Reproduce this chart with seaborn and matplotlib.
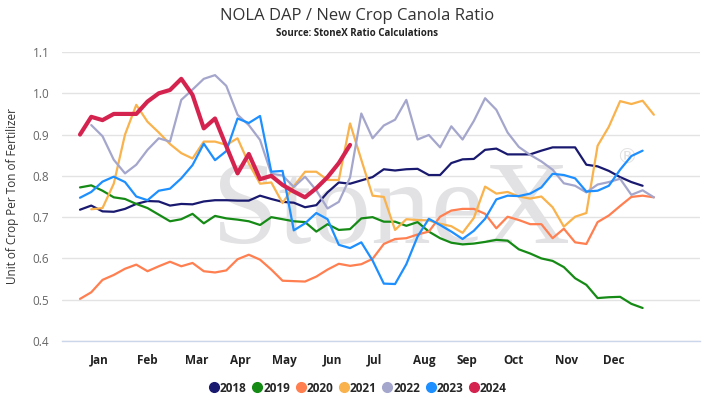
import numpy as np
import pandas as pd
import matplotlib
matplotlib.use("Agg")
import matplotlib.pyplot as plt
from matplotlib.lines import Line2D
import seaborn as sns

# weekly ratio values, week 0 = first week of January (NaN = no value)
y2018 = [0.718, 0.728, 0.714, 0.713, 0.72, 0.732, 0.739, 0.738, 0.728, 0.732, 0.731, 0.738, 0.741, 0.741,
         0.74, 0.74, 0.752, 0.744, 0.737, 0.735, 0.724, 0.729, 0.76, 0.784, 0.781, 0.789, 0.797,
         0.816, 0.813, 0.816, 0.817, 0.802, 0.802, 0.831, 0.84, 0.841, 0.863, 0.866, 0.852, 0.852, 0.852,
         0.861, 0.869, 0.869, 0.869, 0.827, 0.823, 0.812, 0.797, 0.785, 0.776]
y2019 = [0.772, 0.777, 0.764, 0.748, 0.744, 0.732, 0.722, 0.706, 0.69, 0.695, 0.708, 0.685, 0.703, 0.697,
         0.694, 0.69, 0.681, 0.70, 0.695, 0.69, 0.688, 0.665, 0.683, 0.669, 0.671, 0.697, 0.70,
         0.689, 0.689, 0.679, 0.688, 0.665, 0.649, 0.638, 0.634, 0.636, 0.64, 0.645, 0.643, 0.622, 0.612,
         0.60, 0.594, 0.579, 0.552, 0.536, 0.504, 0.506, 0.507, 0.49, 0.48]
y2020 = [0.502, 0.518, 0.548, 0.56, 0.575, 0.585, 0.569, 0.581, 0.592, 0.581, 0.589, 0.569, 0.566, 0.571,
         0.598, 0.609, 0.597, 0.573, 0.546, 0.545, 0.544, 0.556, 0.573, 0.587, 0.582, 0.586, 0.599,
         0.635, 0.647, 0.649, 0.658, 0.665, 0.701, 0.716, 0.72, 0.72, 0.708, 0.673, 0.701, 0.693, 0.683,
         0.683, 0.649, 0.672, 0.639, 0.635, 0.688, 0.704, 0.727, 0.749, 0.752, 0.748]
y2021 = [np.nan, 0.719, 0.722, 0.781, 0.90, 0.972, 0.931, 0.905, 0.877, 0.855, 0.842, 0.883, 0.883, 0.875,
         0.891, 0.83, 0.781, 0.784, 0.734, 0.775, 0.81, 0.81, 0.79, 0.79, 0.927, 0.839, 0.752,
         0.749, 0.669, 0.695, 0.693, 0.692, 0.684, 0.678, 0.662, 0.698, 0.774, 0.757, 0.761, 0.75, 0.745,
         0.75, 0.724, 0.677, 0.701, 0.71, 0.873, 0.919, 0.981, 0.974, 0.982, 0.948]
y2022 = [np.nan, 0.923, 0.896, 0.839, 0.806, 0.827, 0.863, 0.891, 0.883, 0.984, 1.009, 1.035, 1.044, 1.018,
         0.948, 0.923, 0.887, 0.805, 0.801, 0.773, 0.798, 0.765, 0.721, 0.737, 0.796, 0.951, 0.891,
         0.922, 0.936, 0.984, 0.888, 0.899, 0.869, 0.92, 0.888, 0.933, 0.988, 0.96, 0.905, 0.87, 0.851,
         0.835, 0.815, 0.782, 0.776, 0.76, 0.779, 0.785, 0.793, 0.754, 0.765, 0.748]
y2023 = [0.747, 0.761, 0.786, 0.798, 0.785, 0.75, 0.741, 0.764, 0.769, 0.794, 0.826, 0.878, 0.838, 0.86,
         0.939, 0.928, 0.945, 0.81, 0.812, 0.668, 0.685, 0.71, 0.695, 0.633, 0.625, 0.639, 0.595,
         0.539, 0.538, 0.586, 0.653, 0.696, 0.681, 0.665, 0.647, 0.667, 0.696, 0.743, 0.752, 0.751, 0.757,
         0.772, 0.805, 0.802, 0.794, 0.762, 0.764, 0.776, 0.815, 0.848, 0.861]
y2024 = [0.90, 0.943, 0.935, 0.95, 0.95, 0.95, 0.98, 1.0, 1.008, 1.035, 0.996, 0.915, 0.939, 0.872,
         0.806, 0.853, 0.792, 0.80, 0.778, 0.762, 0.748, 0.77, 0.797, 0.831, 0.875]

years = ["2018", "2019", "2020", "2021", "2022", "2023", "2024"]
series = [y2018, y2019, y2020, y2021, y2022, y2023, y2024]
months = ["Jan", "Feb", "Mar", "Apr", "May", "Jun", "Jul", "Aug", "Sep", "Oct", "Nov", "Dec"]

colors = {"2018": "#191970", "2019": "#158a15", "2020": "#ff7f50", "2021": "#f9b24c",
          "2022": "#a4a6cc", "2023": "#1e8fff", "2024": "#d5234f"}
widths = {y: 1.6 for y in years}
widths["2024"] = 3.0

frames = []
for yr, vals in zip(years, series):
    frames.append(pd.DataFrame({"week": np.arange(len(vals)), "value": vals, "year": yr}))
df = pd.concat(frames).dropna()

sns.set_style("white")
plt.rcParams["font.family"] = ["Open Sans", "DejaVu Sans"]

fig = plt.figure(figsize=(7.15, 4.11), dpi=100)
ax = fig.add_axes([62 / 715, 1 - 341 / 411, 638 / 715, 289 / 411])

# watermark
ax.text(0.235, 0.34, "StoneX", transform=ax.transAxes, fontsize=86, family="Liberation Serif",
        color="#e2e2e4", zorder=1, ha="left", va="baseline")
ax.text(0.885, 0.635, "®", transform=ax.transAxes, fontsize=15, family="DejaVu Sans",
        color="#e2e2e4", zorder=1, ha="center", va="center")

sns.lineplot(data=df, x="week", y="value", hue="year", size="year", sizes=widths,
             palette=colors, hue_order=years, size_order=years, estimator=None,
             legend=False, ax=ax, solid_joinstyle="round", solid_capstyle="round", zorder=3)

ax.set_xlim(-1.6, 55.1)
ax.set_ylim(0.4, 1.1)
ax.set_yticks(np.arange(0.4, 1.11, 0.1))
ax.set_yticklabels([f"{v:.1f}" for v in np.arange(0.4, 1.11, 0.1)], color="#666666", fontsize=8.5)
month_pos = [1.72, 6.02, 10.37, 14.28, 18.2, 22.4, 26.2, 30.6, 34.4, 38.5, 43.2, 47.4]
ax.set_xticks(month_pos)
ax.set_xticklabels(months, fontsize=8.5, fontweight="bold", color="#222222")
ax.tick_params(axis="both", length=0)
ax.tick_params(axis="x", pad=9)
ax.tick_params(axis="y", pad=9)

ax.yaxis.grid(True, color="#e3e3e3", linewidth=1)
ax.set_axisbelow(True)
for s in ["top", "right", "left"]:
    ax.spines[s].set_visible(False)
ax.spines["bottom"].set_color("#ccd6eb")
ax.spines["bottom"].set_linewidth(1)

ax.set_xlabel("")
ax.set_ylabel("Unit of Crop Per Ton of Fertilizer", fontsize=8.5, color="#333333", labelpad=10)

fig.text(0.5, 1 - 16 / 411, "NOLA DAP / New Crop Canola Ratio", ha="center", va="center",
         fontsize=12, color="#333333")
fig.text(0.5, 1 - 33 / 411, "Source: StoneX Ratio Calculations", ha="center", va="center",
         fontsize=7, fontweight="bold", color="#222222")

handles = [Line2D([], [], marker="o", linestyle="", markersize=7, color=colors[y]) for y in years]
leg = fig.legend(handles, years, loc="center", bbox_to_anchor=(0.5, 1 - 388 / 411), ncol=7,
                 frameon=False, handletextpad=0.0, columnspacing=0.4, handlelength=1.0,
                 prop={"weight": "bold", "size": 8.5})

fig.savefig("out.png", dpi=100)
